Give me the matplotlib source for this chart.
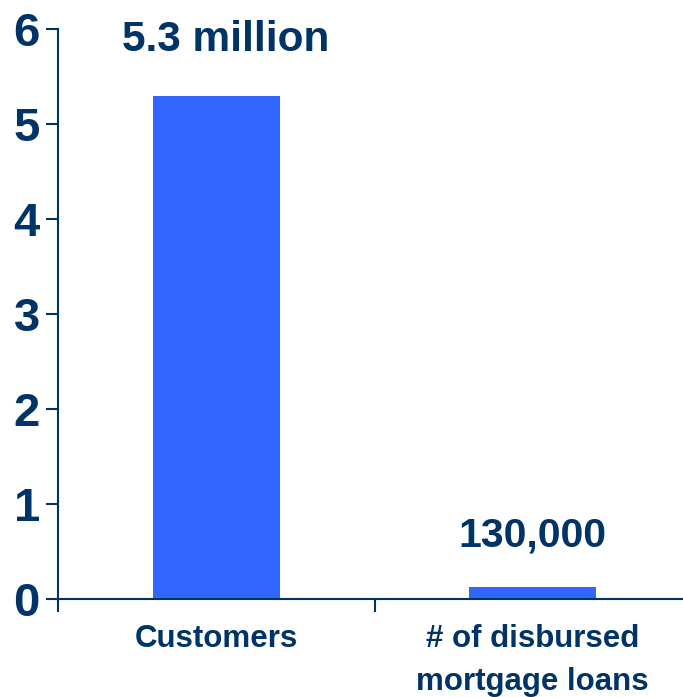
import matplotlib.pyplot as plt

plt.rcParams['font.family'] = ['Liberation Sans', 'DejaVu Sans']

categories = ['Customers', '# of disbursed\nmortgage loans']
values = [5.3, 0.13]
value_labels = ['5.3 million', '130,000']
y_ticks = [0, 1, 2, 3, 4, 5, 6]

navy = '#003366'
blue = '#3366FF'

fig = plt.figure(figsize=(6.83, 6.97), dpi=100)
ax = fig.add_axes([58 / 683, 98 / 697, 633 / 683, 570 / 697])

x = range(len(categories))
ax.bar(x, values, width=0.4, color=blue, edgecolor='none')

# value captions above each bar
ax.text(0.03, 5.88, value_labels[0], ha='center', va='center',
        fontsize=30.5, fontweight='bold', color=navy)
ax.text(1.0, 0.67, value_labels[1], ha='center', va='center',
        fontsize=29.5, fontweight='bold', color=navy)

ax.set_xlim(-0.5, 1.5)
ax.set_ylim(0, 6)
ax.set_yticks(y_ticks)
ax.set_yticklabels([str(t) for t in y_ticks], fontsize=34, fontweight='bold', color=navy)
ax.tick_params(axis='y', direction='out', length=9, width=1.5, color=navy, pad=4)

ax.set_xticks(list(x))
ax.set_xticklabels(categories, fontsize=22.5, fontweight='bold', color=navy, linespacing=1.55)
ax.tick_params(axis='x', which='major', length=0, pad=18)
ax.set_xticks([-0.5, 0.5, 1.5], minor=True)
ax.tick_params(axis='x', which='minor', direction='out', length=9, width=1.5, color=navy)

for side in ['top', 'right']:
    ax.spines[side].set_visible(False)
for side in ['left', 'bottom']:
    ax.spines[side].set_color(navy)
    ax.spines[side].set_linewidth(1.5)

fig.savefig('out.png', dpi=100)
